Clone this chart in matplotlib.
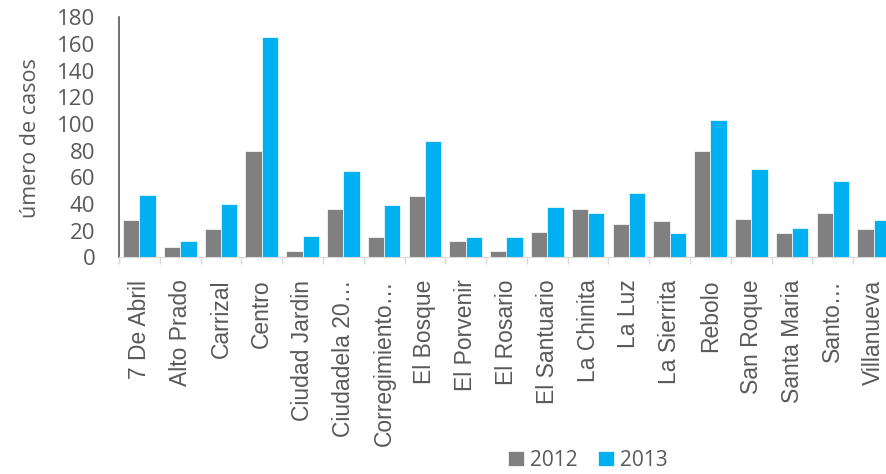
import matplotlib
matplotlib.use("Agg")
import matplotlib.pyplot as plt
import numpy as np
from matplotlib.ticker import FixedLocator

categories = ["7 De Abril", "Alto Prado", "Carrizal", "Centro", "Ciudad Jardin",
              "Ciudadela 20\u2026", "Corregimiento\u2026", "El Bosque", "El Porvenir",
              "El Rosario", "El Santuario", "La Chinita", "La Luz", "La Sierrita",
              "Rebolo", "San Roque", "Santa Maria", "Santo\u2026", "Villanueva"]
values_2012 = [28, 8, 21, 80, 5, 36, 15, 46, 12, 5, 19, 36, 25, 27, 80, 29, 18, 33, 21]
values_2013 = [47, 12, 40, 165, 16, 65, 39, 87, 15, 15, 38, 33, 48, 18, 103, 66, 22, 57, 28]
series_labels = ["2012", "2013"]
y_ticks = [0, 20, 40, 60, 80, 100, 120, 140, 160, 180]

GRAY = "#808080"
BLUE = "#00B0F0"
TXT = "#595959"

W, H = 886, 474
fig = plt.figure(figsize=(W / 100, H / 100), dpi=100)
left, right = 119, 894
top, bottom = 17.3, 257.3
ax = fig.add_axes([left / W, 1 - bottom / H, (right - left) / W, (bottom - top) / H])

x = np.arange(len(categories))
bw = 0.4
ax.bar(x - bw / 2, values_2012, width=bw, color=GRAY, edgecolor="white", linewidth=0.5, label=series_labels[0])
ax.bar(x + bw / 2, values_2013, width=bw, color=BLUE, edgecolor="white", linewidth=0.5, label=series_labels[1])

ax.set_xlim(-0.5, len(categories) - 0.5)
ax.set_ylim(0, 180)
ax.set_yticks(y_ticks)
ax.tick_params(axis="y", length=0, pad=17, labelsize=16, labelcolor=TXT)
for t in ax.get_yticklabels():
    t.set_fontfamily("Open Sans")

ax.set_xticks(x)
ax.set_xticklabels(categories, rotation=90, fontsize=16.5, color=TXT, family="Liberation Sans",
                   va="top", ha="center")
ax.tick_params(axis="x", which="major", length=0, pad=16)
ax.xaxis.set_minor_locator(FixedLocator(np.arange(-0.5, len(categories), 1.0)))
ax.tick_params(axis="x", which="minor", length=5, width=1, color="#D9D9D9", direction="out")

for s in ["top", "right"]:
    ax.spines[s].set_visible(False)
ax.spines["bottom"].set_color("#D9D9D9")
ax.spines["left"].set_color("#595959")
ax.spines["left"].set_linewidth(1.2)

fig.text(30 / W, 1 - 138 / H, "úmero de casos", rotation=90, ha="center", va="center",
         fontsize=15.5, color=TXT, family="Open Sans")

handles, labels = ax.get_legend_handles_labels()
leg = fig.legend(handles, labels, loc="center", bbox_to_anchor=(588 / W, 1 - 460 / H), ncol=2,
                 frameon=False, handlelength=0.75, handleheight=0.75,
                 handletextpad=0.3, columnspacing=1.0, prop={"family": "Open Sans", "size": 15})
for t in leg.get_texts():
    t.set_color(TXT)

fig.savefig("out.png", dpi=100)
